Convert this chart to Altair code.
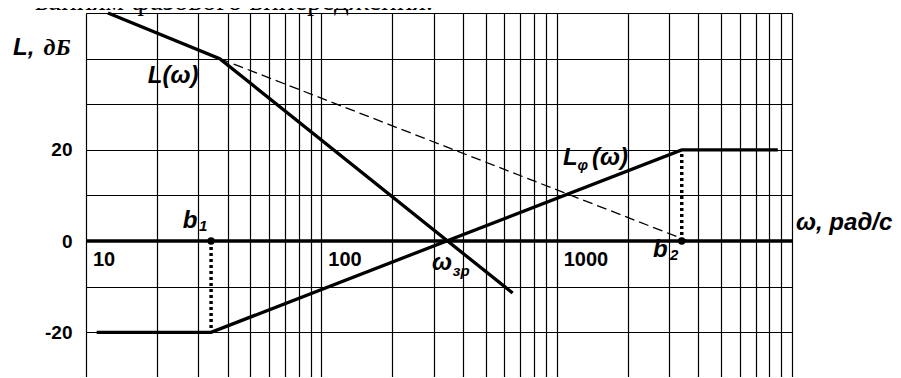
import altair as alt
import pandas as pd

# ---------------- data ----------------
# grid of the logarithmic paper
grid_w = [10, 20, 30, 40, 50, 60, 70, 80, 90,
          100, 200, 300, 400, 500, 600, 700, 800, 900,
          1000, 2000, 3000, 4000, 5000, 6000, 7000, 8000, 9000, 10000]
grid_db = [-20, -10, 0, 10, 20, 30, 40, 50]
y_labels = [20, 0, -20]

# L(ω) asymptotic plot
L_w = [12.4, 37, 650]
L_db = [50, 40, -11.4]

# dashed continuation of the -20 dB/dec slope
dash_w = [37, 3800]
dash_db = [40, -0.4]

# Lф(ω) of the lead corrector
Lf_w = [11.1, 34, 3400, 8700]
Lf_db = [-20, -20, 20, 20]

# break points b1, b2
b_w = [34, 3400]
b_db = [0, 0]
b_drop = [-20, 20]

# tick labels written inside the plot
x_tick_vals = [10, 100, 1000]
x_tick_text = ["10", "100", "1000"]

# annotations (anchor in data coordinates)
main_text = ["L,", "L(ω)", "L", "(ω)", "ω, рад/с", "b", "b", "ω"]
main_w = [4.9, 18.3, 1064, 1413, 10400, 25.8, 2567, 295]
main_db = [40.8, 34.65, 16.67, 16.67, 2.4, 2.85, -3.5, -6.36]

sub_text = ["1", "2", "φ", "зр"]
sub_w = [30.2, 3030, 1225, 362]
sub_db = [2.19, -4.17, 15.57, -7.68]

serif_text = ["дБ"]
serif_w = [6.6]
serif_db = [40.8]

caption = "ванням фазового випередження."

# ---------------- chart ----------------
W, H = 706, 364
SANS = "Liberation Sans"
SERIF = "Liberation Serif"

xs = alt.Scale(type="log", domain=[10, 10000], nice=False)
ys = alt.Scale(domain=[-29.8, 50], nice=False, zero=False)

x_axis = alt.Axis(values=grid_w, grid=True, labels=False, ticks=False,
                  domain=False, title=None, gridColor="#000000",
                  gridWidth=1.2, gridOpacity=1)
y_axis = alt.Axis(values=grid_db, grid=True, ticks=False, domain=False,
                  title=None, gridColor="#000000", gridWidth=1.2,
                  gridOpacity=1,
                  labelExpr="indexof([20, 0, -20], datum.value) >= 0 ? '' + datum.value : ''",
                  labelFont=SANS, labelFontWeight="bold", labelFontSize=19,
                  labelColor="black", labelPadding=14, labelOverlap=False,
                  labelBound=False)

X = alt.X("w:Q", scale=xs, axis=x_axis)
Y = alt.Y("db:Q", scale=ys, axis=y_axis)

df_L = pd.DataFrame({"w": L_w, "db": L_db})
df_dash = pd.DataFrame({"w": dash_w, "db": dash_db})
df_Lf = pd.DataFrame({"w": Lf_w, "db": Lf_db})
df_b = pd.DataFrame({"w": b_w, "db": b_db, "db2": b_drop})
df_zero = pd.DataFrame({"w": [grid_w[0]], "w2": [grid_w[-1]], "db": [0]})
df_ticks = pd.DataFrame({"w": x_tick_vals, "db": [-5.5] * 3, "t": x_tick_text})
df_main = pd.DataFrame({"w": main_w, "db": main_db, "t": main_text})
df_sub = pd.DataFrame({"w": sub_w, "db": sub_db, "t": sub_text})
df_serif = pd.DataFrame({"w": serif_w, "db": serif_db, "t": serif_text})

zero = alt.Chart(df_zero).mark_rule(color="black", strokeWidth=3.5).encode(
    x=X, x2="w2:Q", y=Y)

dash = alt.Chart(df_dash).mark_line(color="black", strokeWidth=1.3,
                                    strokeDash=[10, 5]).encode(x=X, y=Y)

drops = alt.Chart(df_b).mark_rule(color="black", strokeWidth=3.5,
                                  strokeDash=[3, 3]).encode(x=X, y=Y, y2="db2:Q")

line_L = alt.Chart(df_L).mark_line(color="black", strokeWidth=3.3,
                                   strokeJoin="miter").encode(x=X, y=Y)
line_Lf = alt.Chart(df_Lf).mark_line(color="black", strokeWidth=3.3,
                                     strokeJoin="miter").encode(x=X, y=Y)

dots = alt.Chart(df_b).mark_point(filled=True, color="black", size=55,
                                  opacity=1).encode(x=X, y=Y)

ticks = alt.Chart(df_ticks).mark_text(align="left", baseline="alphabetic",
                                      dx=7, font=SANS, fontWeight="bold",
                                      fontSize=20, color="black").encode(
    x=X, y=Y, text="t:N")

main = alt.Chart(df_main).mark_text(align="left", baseline="alphabetic",
                                    font=SANS, fontWeight="bold",
                                    fontStyle="italic", fontSize=24,
                                    color="black").encode(x=X, y=Y, text="t:N")

sub = alt.Chart(df_sub).mark_text(align="left", baseline="alphabetic",
                                  font=SANS, fontWeight="bold",
                                  fontStyle="italic", fontSize=15,
                                  color="black").encode(x=X, y=Y, text="t:N")

serif = alt.Chart(df_serif).mark_text(align="left", baseline="alphabetic",
                                      font=SERIF, fontWeight="bold",
                                      fontStyle="italic", fontSize=24,
                                      color="black").encode(x=X, y=Y, text="t:N")

cap = alt.Chart(pd.DataFrame({"t": [caption]})).mark_text(
    align="right", baseline="alphabetic", font=SERIF, fontSize=29,
    color="black").encode(x=alt.value(347), y=alt.value(-3), text="t:N")

chart = alt.layer(
    zero, dash, drops, line_L, line_Lf, dots, ticks, main, sub, serif, cap
).properties(
    width=W, height=H,
    autosize=alt.AutoSizeParams(type="none"),
    padding={"left": 78, "top": 5, "right": 101, "bottom": 0},
).configure_view(stroke=None).configure(background="white")

chart.save("out.html", embed_options={"renderer": "svg", "actions": False})
